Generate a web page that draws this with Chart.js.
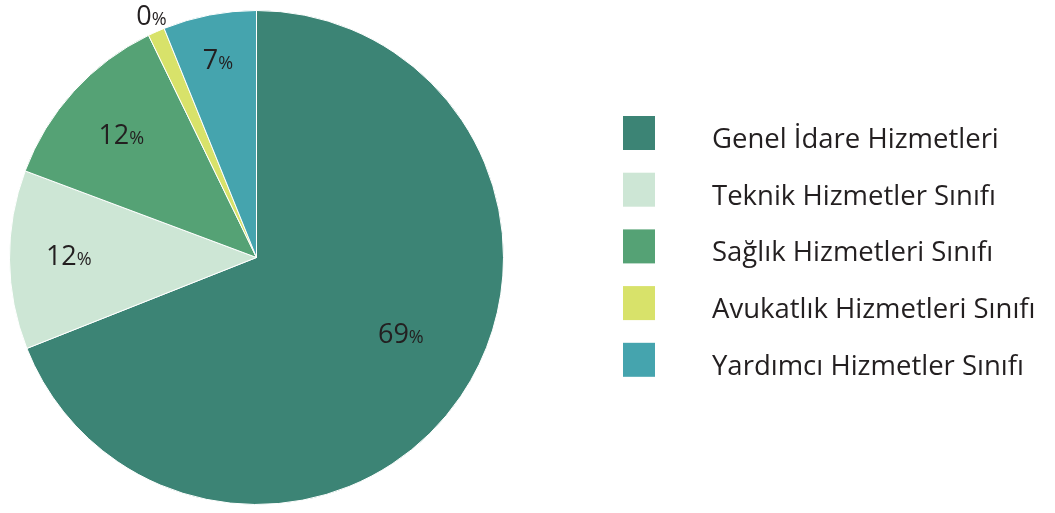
<!DOCTYPE html>
<html lang="tr">
<head>
    <meta charset="UTF-8">
    <title>Sınıflara Göre Dağılım</title>
    <script src="https://cdn.jsdelivr.net/npm/chart.js"></script>
    <style>
        html, body { margin: 0; padding: 0; background: #fff; }
        #wrap { position: relative; width: 1055px; height: 513px; }
    </style>
</head>
<body>
    <div id="wrap"><canvas id="pieChart" width="1055" height="513"></canvas></div>

    <script>
        // veriler (resimden okunan yüzdeler)
        const categories = ['Genel İdare Hizmetleri', 'Teknik Hizmetler Sınıfı', 'Sağlık Hizmetleri Sınıfı', 'Avukatlık Hizmetleri Sınıfı', 'Yardımcı Hizmetler Sınıfı'];
        const values = [69.0, 11.7, 12.1, 1.1, 6.1];
        const valueLabels = ['69', '12', '12', '0', '7'];
        const colors = ['#3C8475', '#CDE6D5', '#55A275', '#D8E26A', '#45A4AE'];

        const FONT = '"Open Sans", sans-serif';
        const TEXT = '#231F20';

        // etiketlerin merkezden uzaklığı (yarıçap oranı) ve açı kayması
        const labelPlace = [
            { r: 0.66, da: -6.5 },
            { r: 0.76, da: 1.3 },
            { r: 0.74, da: 0 },
            { r: 1.07, da: 0.5 },
            { r: 0.82, da: 0 }
        ];

        const percentLabels = {
            id: 'percentLabels',
            afterDatasetsDraw(chart) {
                const ctx = chart.ctx;
                const meta = chart.getDatasetMeta(0);
                ctx.save();
                ctx.fillStyle = TEXT;
                ctx.textBaseline = 'alphabetic';
                meta.data.forEach((arc, i) => {
                    const p = labelPlace[i];
                    const mid = (arc.startAngle + arc.endAngle) / 2 + p.da * Math.PI / 180;
                    const rr = arc.outerRadius * p.r;
                    const x = arc.x + Math.cos(mid) * rr;
                    const y = arc.y + Math.sin(mid) * rr;
                    ctx.font = '27px ' + FONT;
                    const w1 = ctx.measureText(valueLabels[i]).width;
                    ctx.font = '18px ' + FONT;
                    const w2 = ctx.measureText('%').width;
                    const x0 = x - (w1 + w2) / 2;
                    ctx.font = '27px ' + FONT;
                    ctx.fillText(valueLabels[i], x0, y + 10);
                    ctx.font = '18px ' + FONT;
                    ctx.fillText('%', x0 + w1, y + 10);
                });
                ctx.restore();
            }
        };

        const sideLegend = {
            id: 'sideLegend',
            afterDraw(chart) {
                const ctx = chart.ctx;
                ctx.save();
                ctx.font = '27.5px ' + FONT;
                ctx.textBaseline = 'alphabetic';
                categories.forEach((c, i) => {
                    const cy = 133 + i * 56.7;
                    ctx.fillStyle = colors[i];
                    ctx.fillRect(623, cy - 17, 32, 34);
                    ctx.fillStyle = TEXT;
                    ctx.fillText(c, 712, cy + 15);
                });
                ctx.restore();
            }
        };

        new Chart(document.getElementById('pieChart').getContext('2d'), {
            type: 'pie',
            data: {
                labels: categories,
                datasets: [{
                    data: values,
                    backgroundColor: colors,
                    borderColor: '#ffffff',
                    borderWidth: 1
                }]
            },
            options: {
                responsive: false,
                animation: false,
                layout: { padding: { top: 10, bottom: 8, left: 9, right: 551 } },
                plugins: {
                    legend: { display: false },
                    tooltip: { enabled: false }
                }
            },
            plugins: [percentLabels, sideLegend]
        });
    </script>
</body>
</html>
